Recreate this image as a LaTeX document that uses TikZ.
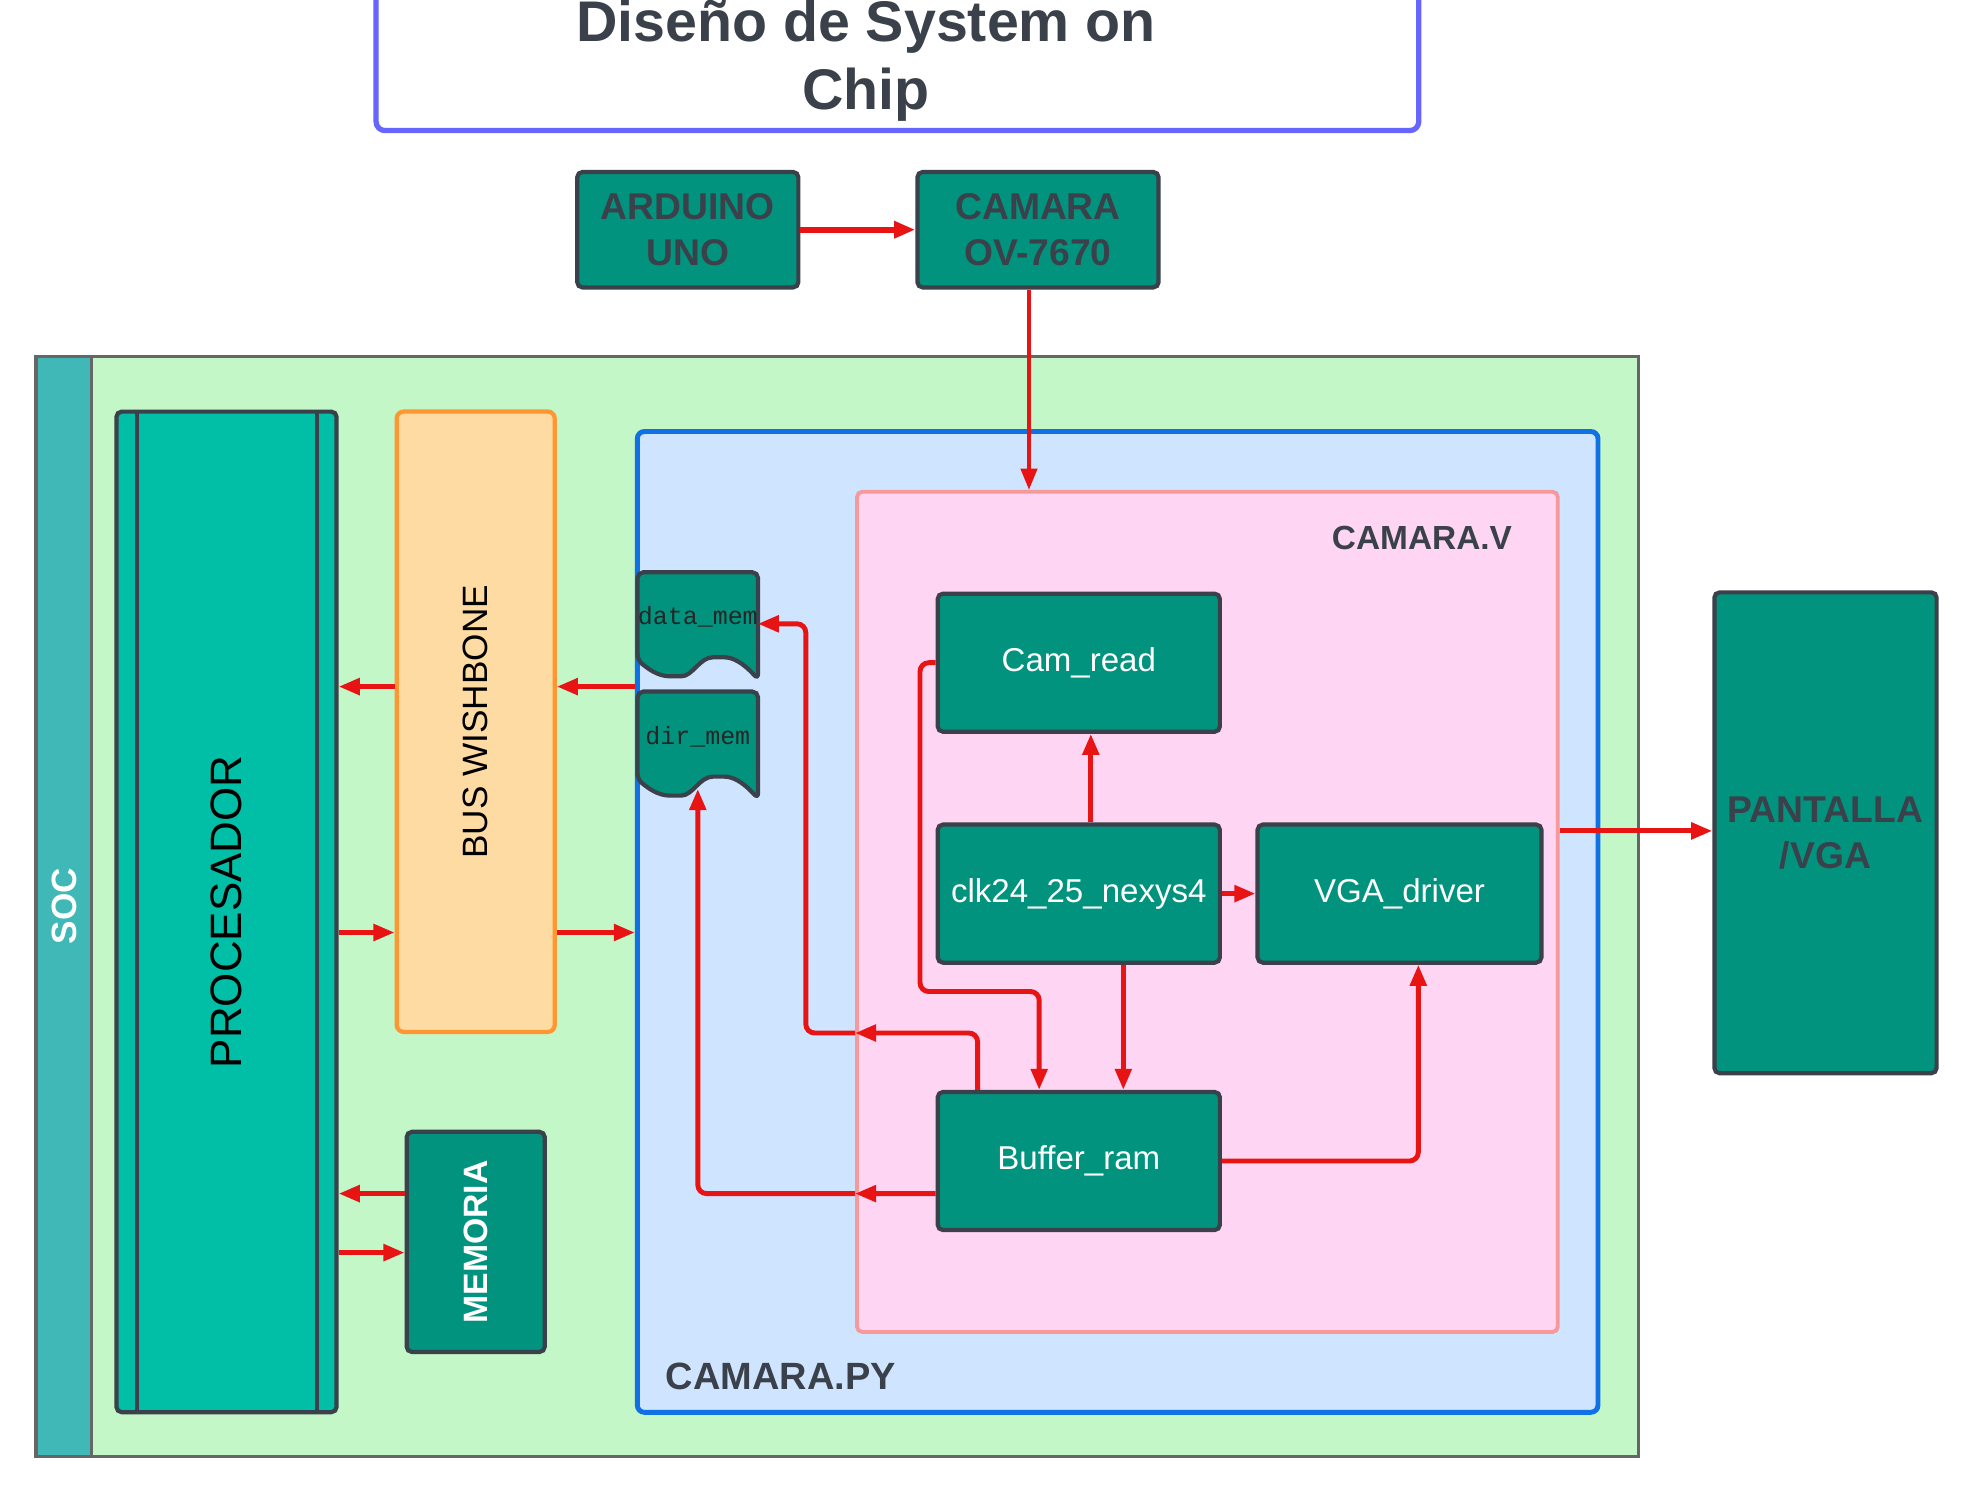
\documentclass[tikz,border=0pt]{standalone}
\usepackage{fontspec}
\usepackage{graphicx}
\setmainfont{Liberation Sans}
\newfontfamily\memfont{Liberation Mono}
\usetikzlibrary{arrows.meta}

\definecolor{tealbox}{HTML}{02937F}
\definecolor{tealproc}{HTML}{00BFA6}
\definecolor{tealsoc}{HTML}{40B8B8}
\definecolor{edgedark}{HTML}{3A414A}
\definecolor{socgreen}{HTML}{C3F7C8}
\definecolor{socgray}{HTML}{666666}
\definecolor{busfill}{HTML}{FFDBA4}
\definecolor{busline}{HTML}{FF9631}
\definecolor{pyfill}{HTML}{CFE4FF}
\definecolor{pyline}{HTML}{1071E5}
\definecolor{vfill}{HTML}{FFD5F4}
\definecolor{vline}{HTML}{F7989B}
\definecolor{titleline}{HTML}{6666FF}
\definecolor{wirered}{HTML}{E81313}

\newcommand{\ftitle}{\fontsize{16.3}{19.3}\selectfont\bfseries}
\newcommand{\fhead}{\fontsize{10.6}{13}\selectfont\bfseries}
\newcommand{\fblk}{\fontsize{9.4}{11.3}\selectfont}
\newcommand{\fproc}{\fontsize{12.5}{15}\selectfont}
\newcommand{\fbus}{\fontsize{10}{12}\selectfont}
\newcommand{\fsoc}{\fontsize{10}{12}\selectfont\bfseries}
\newcommand{\fmemoria}{\fontsize{9.6}{11.5}\selectfont\bfseries}
\newcommand{\fpy}{\fontsize{10.8}{13}\selectfont\bfseries}
\newcommand{\fv}{\fontsize{9.5}{11.4}\selectfont\bfseries}
\newcommand{\fmem}{\memfont\fontsize{7.1}{8.5}\selectfont}

\tikzset{
  blk/.style={draw=edgedark, line width=1.2pt, fill=tealbox, rounded corners=1.5pt, inner sep=0pt},
  modblk/.style={blk, text=white, font=\fblk, minimum width=2.82cm, minimum height=1.38cm},
  extblk/.style={blk, text=edgedark, font=\fhead, align=center},
  memtxt/.style={inner sep=0pt, font=\fmem, text=black!85},
  wire/.style={draw=wirered, line width=1.4pt, -{Triangle[length=6pt,width=4.6pt]}, rounded corners=2.5pt},
  memdoc/.pic={
    \draw[draw=edgedark, line width=1.2pt, fill=tealbox, rounded corners=1.6pt]
      (0,88) -- (0,0) -- (120.4,0) -- (120.4,107)
      .. controls (105,90) and (95,85) .. (81,85)
      .. controls (62,85) and (55,104) .. (38,104)
      .. controls (20,104) and (10,96) .. (0,88) -- cycle;
  }
}

\begin{document}
\begin{tikzpicture}[x=0.01cm, y=-0.01cm]
\useasboundingbox (0,0) rectangle (1968,1490);

% title
\node[draw=titleline, line width=1.5pt, fill=white, rounded corners=2.5pt, minimum width=10.42cm, minimum height=1.705cm] (titlebox) at (897.4,45.25) {};
\node[font=\ftitle, text=edgedark, align=center, inner sep=0pt] (title) at (866,61) {Diseño de System on\\Chip};

% external parts
\node[extblk, minimum width=2.21cm, minimum height=1.154cm] (arduino) at (687.8,229.7) {ARDUINO\\UNO};
\node[extblk, minimum width=2.41cm, minimum height=1.154cm] (camara) at (1038,229.7) {CAMARA\\OV-7670};

% soc
\node[draw=socgray, line width=0.9pt, fill=socgreen, minimum width=16.015cm, minimum height=10.995cm, inner sep=0pt] (soc) at (837.15,906.15) {};
\node[draw=socgray, line width=0.9pt, fill=tealsoc, minimum width=0.552cm, minimum height=10.995cm, inner sep=0pt, text=white, font=\fsoc] (socstrip) at (64,906.15) {\rotatebox{90}{SOC}};

\node[blk, fill=tealproc, minimum width=2.2cm, minimum height=10.0cm, font=\fproc] (procesador) at (226.5,911.9) {\rotatebox{90}{PROCESADOR}};
\draw[draw=edgedark, line width=1.2pt] ([xshift=0.226cm]procesador.north west) -- ([xshift=0.226cm]procesador.south west);
\draw[draw=edgedark, line width=1.2pt] ([xshift=-0.214cm]procesador.north east) -- ([xshift=-0.214cm]procesador.south east);

\node[draw=busline, line width=1.2pt, fill=busfill, rounded corners=2pt, minimum width=1.58cm, minimum height=6.2cm, inner sep=0pt, font=\fbus] (bus) at (475.7,721.7) {\rotatebox{90}{BUS WISHBONE}};
\node[blk, minimum width=1.38cm, minimum height=2.2cm, text=white, font=\fmemoria] (memoria) at (475.7,1241.9) {\rotatebox{90}{MEMORIA}};

% camara.py / camara.v
\node[draw=pyline, line width=1.4pt, fill=pyfill, rounded corners=2pt, minimum width=9.601cm, minimum height=9.802cm, inner sep=0pt] (camarapy) at (1117.65,921.9) {};
\node[anchor=west, inner sep=0pt, font=\fpy, text=edgedark] (pylabel) at (665,1376.8) {CAMARA.PY};
\node[draw=vline, line width=1.1pt, fill=vfill, rounded corners=1.5pt, minimum width=7.004cm, minimum height=8.397cm, inner sep=0pt] (camarav) at (1207.4,911.85) {};
\node[inner sep=0pt, font=\fv, text=edgedark] (vlabel) at (1422,538.4) {CAMARA.V};

\pic at (637.6,572.3) {memdoc};
\node[memtxt] (datamem) at (697.8,616.3) {data\_mem};
\pic at (637.6,691.6) {memdoc};
\node[memtxt] (dirmem) at (697.8,736.7) {dir\_mem};
\coordinate (dirmemwave) at (697.8,789);

\node[modblk] (camread) at (1078.8,662.7) {Cam\_read};
\node[modblk] (clk) at (1078.8,893.6) {clk24\_25\_nexys4};
\node[modblk, minimum width=2.837cm] (vga) at (1399.5,893.6) {VGA\_driver};
\node[modblk] (buffer) at (1078.8,1161) {Buffer\_ram};

\node[extblk, minimum width=2.221cm, minimum height=4.806cm] (pantalla) at (1825.5,832.8) {PANTALLA\\/VGA};

% connector levels
\coordinate (lvlbusin) at (0,686.6);
\coordinate (lvlbusout) at (0,932.5);
\coordinate (lvlmemin) at (0,1193.6);
\coordinate (lvlmemout) at (0,1252.6);
\coordinate (lvldata) at (0,1033);
\coordinate (lvlvga) at (0,830.9);

\draw[wire, line width=1.6pt] (arduino) -- (camara);
\draw[wire, line width=1pt] ([xshift=-0.09cm]camara.south) -- ([xshift=-0.09cm]camara.south |- camarav.north);
\draw[wire] ([xshift=0.12cm]clk.north) -- ([xshift=0.12cm]clk.north |- camread.south);
\draw[wire] (clk) -- (vga);
\draw[wire] ([xshift=0.445cm]clk.south) -- ([xshift=0.445cm]clk.south |- buffer.north);
\draw[wire] (camread.west) -| (920,991.5) -| ([xshift=-0.396cm]buffer.north);
\draw[wire] ([xshift=-1.011cm]buffer.north) |- (camarav.west |- lvldata);
\draw[wire] (camarav.west |- lvldata) -| (805.8,623.8) -- (757.8,623.8);
\draw[wire] ([yshift=-0.326cm]buffer.west) -- (camarav.west |- lvlmemin);
\draw[wire] (camarav.west |- lvlmemin) -| (dirmemwave);
\draw[wire] (buffer.east) -| ([xshift=0.188cm]vga.south);
\draw[wire] (camarav.east |- lvlvga) -- (pantalla.west |- lvlvga);
\draw[wire] (camarapy.west |- lvlbusin) -- (bus.east |- lvlbusin);
\draw[wire] (bus.west |- lvlbusin) -- (procesador.east |- lvlbusin);
\draw[wire] (procesador.east |- lvlbusout) -- (bus.west |- lvlbusout);
\draw[wire] (bus.east |- lvlbusout) -- (camarapy.west |- lvlbusout);
\draw[wire] (memoria.west |- lvlmemin) -- (procesador.east |- lvlmemin);
\draw[wire] (procesador.east |- lvlmemout) -- (memoria.west |- lvlmemout);
\end{tikzpicture}
\end{document}
